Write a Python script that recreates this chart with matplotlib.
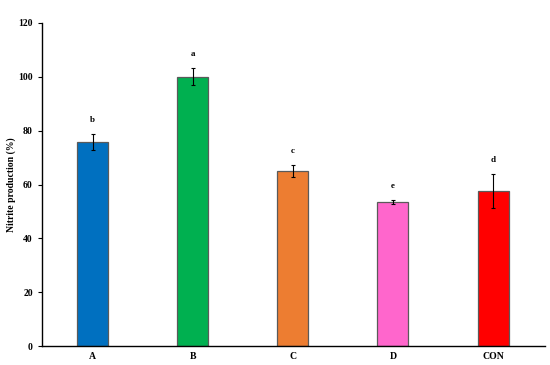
import numpy as np
import matplotlib.pyplot as plt

plt.rcParams['font.family'] = ['Liberation Serif', 'DejaVu Serif']
plt.rcParams['font.weight'] = 'bold'

# 数据
groups = ['A', 'B', 'C', 'D', 'CON']
means = [75.8, 100.1, 64.9, 53.4, 57.6]
errs = [3.0, 3.0, 2.2, 0.7, 6.3]
letters = ['b', 'a', 'c', 'e', 'd']
colors = ['#0070C0', '#00B050', '#ED7D31', '#FF66CC', '#FF0000']

fig = plt.figure(figsize=(5.5, 3.65), dpi=100)
ax = fig.add_axes([0.076, 0.052, 0.915, 0.885])

x = np.arange(len(groups))
ax.bar(x, means, width=0.31, color=colors, edgecolor='#5a5a5a', linewidth=0.9, zorder=2)
ax.errorbar(x, means, yerr=errs, fmt='none', ecolor='black', elinewidth=0.8,
            capsize=1.5, capthick=0.8, zorder=3)

# 显著性字母
for xi, m, e, lab in zip(x, means, errs, letters):
    ax.text(xi, m + e + 5.3, lab, ha='center', va='center', fontsize=6.5, fontweight='bold')

ax.set_xlim(-0.51, 4.52)
ax.set_ylim(0, 120)
ax.set_yticks(np.arange(0, 121, 20))
ax.set_xticks(x)
ax.set_xticklabels(groups)
ax.tick_params(axis='x', length=0, labelsize=7, pad=4)
ax.tick_params(axis='y', length=3, width=0.8, labelsize=7, direction='out')
ax.set_ylabel('Nitrite production (%)', fontsize=7, fontweight='bold')
ax.yaxis.set_label_coords(-0.052, 0.5)

for s in ['top', 'right']:
    ax.spines[s].set_visible(False)
for s in ['left', 'bottom']:
    ax.spines[s].set_linewidth(1.0)

fig.savefig('out.png', dpi=100)
